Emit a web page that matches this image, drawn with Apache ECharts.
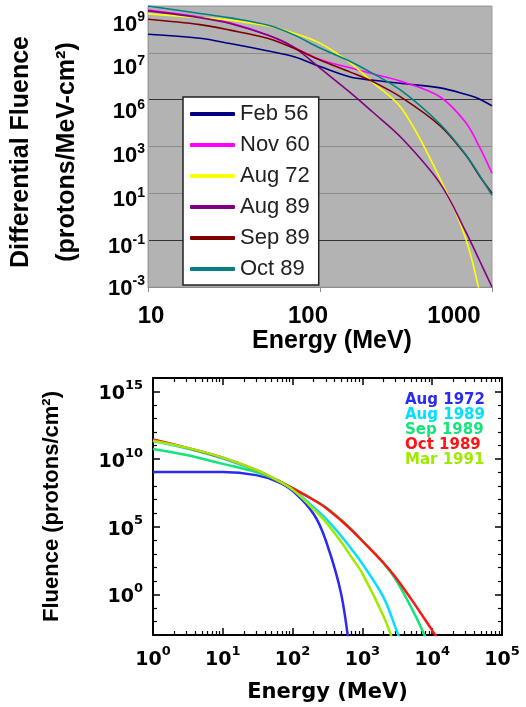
<!DOCTYPE html>
<html>
<head>
<meta charset="utf-8">
<title>Solar proton event fluence spectra</title>
<script src="https://cdn.jsdelivr.net/npm/echarts@6/dist/echarts.min.js"></script>
<style>
  html, body { margin: 0; padding: 0; background: #fff; }
  #chart { width: 526px; height: 707px; }
</style>
</head>
<body>
<div id="chart"></div>
<script>
// ---- top panel: differential fluence (protons/MeV-cm2) ----
const topEnergy = [10, 20, 30, 50, 70, 100, 150, 200, 300, 500, 700, 850, 1000];
const feb56 = [6.2e7, 4.2e7, 2.5e7, 1.2e7, 6.9e6, 2.6e6, 9.3e5, 6.9e5, 4.9e5, 3.2e5, 1.7e5, 1.05e5, 5.4e4];
const nov60 = [6.8e8, 3.4e8, 1.9e8, 5.6e7, 1.8e7, 5.2e6, 2.3e6, 1.3e6, 5.9e5, 1.3e5, 1.1e4, 890, 72];
const aug72 = [4.6e8, 3.2e8, 2.5e8, 1.4e8, 7.1e7, 2.6e7, 3.7e6, 5.9e5, 4.0e4, 41, 0.13, 5e-4, null];
const aug89 = [6.2e8, 3.2e8, 1.8e8, 5.6e7, 1.8e7, 2.2e6, 2.0e5, 3.2e4, 2.2e3, 26, 0.25, 0.0126, 1.0e-3];
const sep89 = [2.7e8, 1.6e8, 9.3e7, 4.1e7, 1.6e7, 4.9e6, 1.5e6, 6.2e5, 1.2e5, 7.6e3, 450, 52, 10];
const oct89 = [1.0e9, 4.8e8, 3.1e8, 1.5e8, 6.0e7, 1.6e7, 4.3e6, 1.4e6, 2.3e5, 8.9e3, 480, 56, 8.3];
const topNames = ['Feb 56', 'Nov 60', 'Aug 72', 'Aug 89', 'Sep 89', 'Oct 89'];
// exponent text printed at the y gridlines (-3, -1, 1, 3, 5, 7, 9), as on the original
const topYTickText = ['-3', '-1', '1', '3', '6', '7', '9'];

// ---- bottom panel: integral fluence (protons/cm2) ----
const botEnergy = [1, 3, 10, 30, 60, 100, 200, 300, 500, 700, 1000, 2000, 3000, 5000, 7000, 10000, 12000];
const aug1972 = [1.1e9, 1.1e9, 1.1e9, 6.6e8, 2.2e8, 4.5e7, 8.9e5, 9.3e3, 0.89, 3e-6, null, null, null, null, null, null, null];
const aug1989 = [2.2e11, 6.3e10, 1.1e10, 1.4e9, 2.8e8, 6.0e7, 2.8e6, 4.0e5, 2.0e4, 2.2e3, 180, 0.63, 3.2e-3, 3e-6, null, null, null];
const sep1989 = [5.6e10, 2.0e10, 4.5e9, 1.1e9, 2.8e8, 7.1e7, 1.0e7, 2.8e6, 3.2e5, 6.3e4, 9.5e3, 200, 12.6, 0.11, 3.2e-3, 5e-5, null];
const oct1989 = [2.8e11, 7.1e10, 1.3e10, 1.6e9, 2.8e8, 7.1e7, 9.5e6, 2.5e6, 2.8e5, 5.6e4, 8.9e3, 220, 18, 0.45, 0.035, 2.2e-3, 5e-4];
const mar1991 = [2.3e11, 7.1e10, 1.3e10, 1.6e9, 2.8e8, 5.6e7, 2.0e6, 2.2e5, 7.1e3, 560, 35, 0.025, 1e-4, null, null, null, null];
const botNames = ['Aug 1972', 'Aug 1989', 'Sep 1989', 'Oct 1989', 'Mar 1991'];

const ARIAL = 'Liberation Sans';
const WIDE = 'DejaVu Sans';

// the y axes are linear in log10(fluence)
function toLog(xs, ys) {
  const out = [];
  xs.forEach((x, i) => {
    if (ys[i] != null) out.push([x, Math.log10(ys[i])]);
  });
  return out;
}

// top y labels sit a bit below their gridlines, more so near the top
const topYDrop = [0, 5, 5, 8, 11, 14, 17];
const topYRich = {};
topYDrop.forEach((d, k) => {
  topYRich['n' + k] = { fontFamily: ARIAL, fontSize: 22, fontWeight: 'bold', color: '#000', padding: [2 * d + 3, 0, 0, 0] };
  topYRich['s' + k] = { fontFamily: ARIAL, fontSize: 14, fontWeight: 'bold', color: '#000', verticalAlign: 'top', padding: [2 * d, 0, 0, 0] };
});

const powRich = {
  n: { fontFamily: WIDE, fontSize: 19, fontWeight: 'bold', color: '#000', padding: [6, 0, 0, 0] },
  s: { fontFamily: WIDE, fontSize: 13, fontWeight: 'bold', color: '#000', verticalAlign: 'top' }
};

const topColors = ['#000080', '#ff00ff', '#ffff00', '#800080', '#800000', '#008080'];
const topData = [feb56, nov60, aug72, aug89, sep89, oct89];
const botColors = ['#2a2af2', '#00e1ff', '#12e67a', '#ff1414', '#a0ea00'];
const botData = [aug1972, aug1989, sep1989, oct1989, mar1991];

const series = [];
topNames.forEach((name, i) => {
  series.push({
    name: name, type: 'line', xAxisIndex: 0, yAxisIndex: 0,
    data: toLog(topEnergy, topData[i]),
    smooth: 0.35, showSymbol: false,
    lineStyle: { width: 1.6, color: topColors[i] },
    itemStyle: { color: topColors[i] }
  });
});
botNames.forEach((name, i) => {
  series.push({
    name: name, type: 'line', xAxisIndex: 1, yAxisIndex: 1,
    data: toLog(botEnergy, botData[i]),
    smooth: 0.35, showSymbol: false,
    lineStyle: { width: 2.5, color: botColors[i] },
    itemStyle: { color: botColors[i] }
  });
});

const frameAxis = {
  axisLine: { onZero: false, lineStyle: { color: '#000', width: 2 } },
  axisTick: { inside: true, length: 7, lineStyle: { color: '#000', width: 1.5 } },
  minorTick: { show: true, length: 4, lineStyle: { color: '#000', width: 1.2 } },
  splitLine: { show: false }
};

const option = {
  animation: false,
  backgroundColor: '#fff',
  grid: [
    { left: 148, top: 6, width: 344, height: 281, outerBoundsMode: 'none', show: true, backgroundColor: '#b3b3b3', borderColor: '#9c9c9c', borderWidth: 1 },
    { left: 153, top: 378, width: 349, height: 257, outerBoundsMode: 'none' }
  ],
  legend: [
    {
      orient: 'vertical', left: 183, top: 97, padding: [6, 9, 5, 7],
      backgroundColor: '#fff', borderColor: '#222', borderWidth: 1.5,
      itemWidth: 45, itemHeight: 4, itemGap: 9, icon: 'roundRect',
      selectedMode: false,
      textStyle: { fontFamily: ARIAL, fontSize: 22, color: '#222' },
      data: topNames
    },
    {
      orient: 'vertical', left: 400, top: 393, padding: 0,
      itemWidth: 0, itemHeight: 0, itemGap: 0, icon: 'none',
      selectedMode: false,
      textStyle: { fontFamily: WIDE, fontSize: 15, fontWeight: 'bold', lineHeight: 14.5 },
      data: botNames.map((n, i) => ({ name: n, textStyle: { color: botColors[i] } }))
    }
  ],
  xAxis: [
    {
      gridIndex: 0, type: 'log', min: 10, max: 1000,
      axisLine: { onZero: false, lineStyle: { color: '#8c8c8c', width: 1 } },
      axisTick: { show: true, length: 5, lineStyle: { color: '#8c8c8c' } },
      splitLine: { show: false },
      axisLabel: {
        margin: 17,
        formatter: v => {
          const k = Math.round(Math.log10(v));
          return '{t' + k + '|' + Math.round(v) + '}';
        },
        rich: {
          t1: { fontFamily: ARIAL, fontSize: 24, fontWeight: 'bold', color: '#000', padding: [0, 0, 0, 6] },
          t2: { fontFamily: ARIAL, fontSize: 24, fontWeight: 'bold', color: '#000', padding: [0, 24, 0, 0] },
          t3: { fontFamily: ARIAL, fontSize: 24, fontWeight: 'bold', color: '#000', padding: [0, 76, 0, 0] }
        }
      },
      name: 'Energy (MeV)', nameLocation: 'middle', nameGap: 33,
      nameTextStyle: { fontFamily: ARIAL, fontSize: 25, fontWeight: 'bold', color: '#000', padding: [0, 0, 0, 24] }
    },
    Object.assign({
      gridIndex: 1, type: 'log', min: 1, max: 100000, position: 'bottom',
      axisLabel: {
        margin: 10,
        formatter: v => '{n|10}{s|' + Math.round(Math.log10(v)) + '}',
        rich: powRich
      },
      name: 'Energy (MeV)', nameLocation: 'middle', nameGap: 47,
      nameTextStyle: { fontFamily: WIDE, fontSize: 21, fontWeight: 'bold', color: '#000' }
    }, frameAxis, { minorTick: Object.assign({ splitNumber: 9 }, frameAxis.minorTick) }),
    Object.assign({
      gridIndex: 1, type: 'log', min: 1, max: 100000, position: 'top',
      axisLabel: { show: false }
    }, frameAxis, { minorTick: Object.assign({ splitNumber: 9 }, frameAxis.minorTick) })
  ],
  yAxis: [
    {
      gridIndex: 0, type: 'value', min: -3, max: 9, interval: 2,
      axisLine: { show: true, onZero: false, lineStyle: { color: '#9c9c9c', width: 1 } },
      axisTick: { show: false },
      splitLine: {
        show: true,
        lineStyle: { width: 1, color: ['#8c8c8c', '#333', '#8c8c8c', '#8c8c8c', '#333', '#8c8c8c', '#a0a0a0'] }
      },
      axisLabel: {
        margin: 3,
        formatter: v => {
          const k = Math.round((v + 3) / 2);
          return '{n' + k + '|10}{s' + k + '|' + topYTickText[k] + '}';
        },
        rich: topYRich
      },
      name: 'Differential Fluence\n(protons/MeV-cm²)', nameLocation: 'middle', nameGap: 58,
      nameTextStyle: { fontFamily: ARIAL, fontSize: 25, fontWeight: 'bold', color: '#000', lineHeight: 46, padding: [0, 11, 0, 0] }
    },
    Object.assign({
      gridIndex: 1, type: 'value', min: -3, max: 16, splitNumber: 4,
      axisLabel: {
        margin: 10, showMinLabel: false, showMaxLabel: false,
        formatter: v => '{n|10}{s|' + v + '}',
        rich: powRich
      },
      name: 'Fluence (protons/cm²)', nameLocation: 'middle', nameGap: 90,
      nameTextStyle: { fontFamily: ARIAL, fontSize: 22, fontWeight: 'bold', color: '#000' }
    }, frameAxis, { minorTick: Object.assign({ splitNumber: 5 }, frameAxis.minorTick) }),
    Object.assign({
      gridIndex: 1, type: 'value', min: -3, max: 16, splitNumber: 4, position: 'right',
      axisLabel: { show: false }
    }, frameAxis, { minorTick: Object.assign({ splitNumber: 5 }, frameAxis.minorTick) })
  ],
  series: series
};

const chart = echarts.init(document.getElementById('chart'));
chart.setOption(option);
</script>
</body>
</html>
